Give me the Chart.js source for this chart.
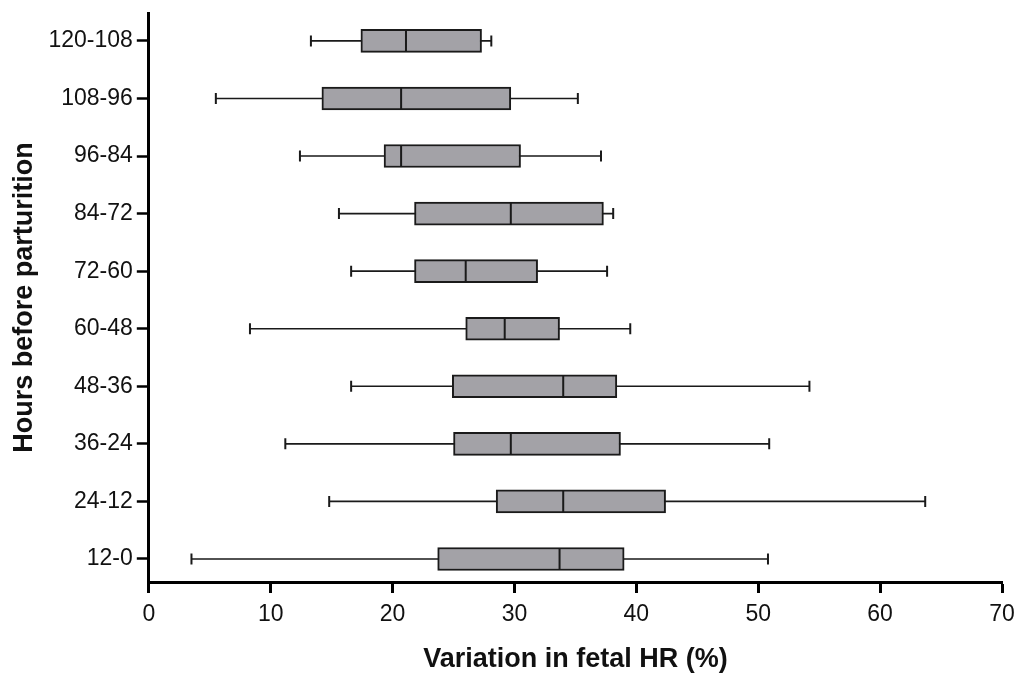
<!DOCTYPE html>
<html>
<head>
<meta charset="utf-8">
<script src="https://cdn.jsdelivr.net/npm/chart.js@4.4.1/dist/chart.umd.min.js"></script>
<style>
  html, body { margin: 0; padding: 0; background: #fff; }
  #wrap { width: 1027px; height: 674px; position: relative; }
</style>
</head>
<body>
<div id="wrap"><canvas id="c" width="1027" height="674"></canvas></div>
<script>
// Categories (top to bottom)
const categories = ['120-108', '108-96', '96-84', '84-72', '72-60', '60-48', '48-36', '36-24', '24-12', '12-0'];
// Box plot statistics
const minValues    = [13.3,  5.5, 12.4, 15.6, 16.6,  8.3, 16.6, 11.2, 14.8,  3.5];
const q1Values     = [17.4, 14.2, 19.3, 21.8, 21.8, 26.0, 24.9, 25.0, 28.5, 23.7];
const medianValues = [21.1, 20.7, 20.7, 29.7, 26.0, 29.2, 34.0, 29.7, 34.0, 33.7];
const q3Values     = [27.3, 29.7, 30.5, 37.3, 31.9, 33.7, 38.4, 38.7, 42.4, 39.0];
const maxValues    = [28.1, 35.2, 37.1, 38.1, 37.6, 39.5, 54.2, 50.9, 63.7, 50.8];
const xTicks = [0, 10, 20, 30, 40, 50, 60, 70];

const boxData = categories.map((c, i) => ({ x: [q1Values[i], q3Values[i]], y: i }));
const whiskerData = [];
categories.forEach((c, i) => {
  whiskerData.push({ x: minValues[i], y: i });
  whiskerData.push({ x: maxValues[i], y: i });
  whiskerData.push({ x: null, y: null });
});
const medianData = categories.map((c, i) => ({ x: medianValues[i], y: i }));

const FONT = "'Liberation Sans', Arial, sans-serif";

new Chart(document.getElementById('c'), {
  data: {
    datasets: [
      {
        type: 'line',
        data: whiskerData,
        borderColor: '#1a1a1a',
        borderWidth: 1.6,
        pointStyle: 'line',
        rotation: 90,
        pointRadius: 5.5,
        pointBorderWidth: 2,
        pointBorderColor: '#1a1a1a',
        spanGaps: false,
        order: 3
      },
      {
        type: 'bar',
        indexAxis: 'y',
        data: boxData,
        backgroundColor: '#a3a2a7',
        borderColor: '#1a1a1a',
        borderWidth: 2,
        borderSkipped: false,
        barThickness: 23,
        order: 2
      },
      {
        type: 'scatter',
        data: medianData,
        pointStyle: 'line',
        rotation: 90,
        pointRadius: 11,
        pointBorderWidth: 2,
        borderColor: '#1a1a1a',
        backgroundColor: '#1a1a1a',
        order: 1
      }
    ]
  },
  options: {
    responsive: false,
    animation: false,
    events: [],
    layout: { padding: { left: 4, right: 25, top: 8, bottom: 0 } },
    plugins: { legend: { display: false }, tooltip: { enabled: false } },
    scales: {
      x: {
        type: 'linear',
        min: 0, max: 70,
        afterBuildTicks: (s) => { s.ticks = xTicks.map(v => ({ value: v })); },
        ticks: { color: '#111', font: { family: FONT, size: 23 }, padding: 8, maxRotation: 0 },
        grid: { display: true, drawOnChartArea: false, drawTicks: true, tickLength: 11, tickWidth: 3, tickColor: '#000' },
        border: { display: true, width: 3, color: '#000' },
        title: { display: true, text: 'Variation in fetal HR (%)', color: '#111',
                 font: { family: FONT, size: 27, weight: 'bold' }, padding: { top: 7, bottom: -2 } }
      },
      y: {
        type: 'linear',
        reverse: true,
        offset: false,
        min: -0.485, max: 9.4,
        afterBuildTicks: (s) => { s.ticks = categories.map((c, i) => ({ value: i })); },
        afterFit: (s) => { s.paddingTop = 0; s.paddingBottom = 0; },
        ticks: { color: '#111', font: { family: FONT, size: 23 }, padding: 4,
                 callback: (v) => categories[v] },
        grid: { display: true, offset: false, drawOnChartArea: false, drawTicks: true, tickLength: 12, tickWidth: 2.5, tickColor: '#000' },
        border: { display: true, width: 3, color: '#000' },
        title: { display: true, text: 'Hours before parturition', color: '#111',
                 font: { family: FONT, size: 27, weight: 'bold' }, padding: { top: 4, bottom: 4 } }
      }
    }
  }
});
</script>
</body>
</html>
